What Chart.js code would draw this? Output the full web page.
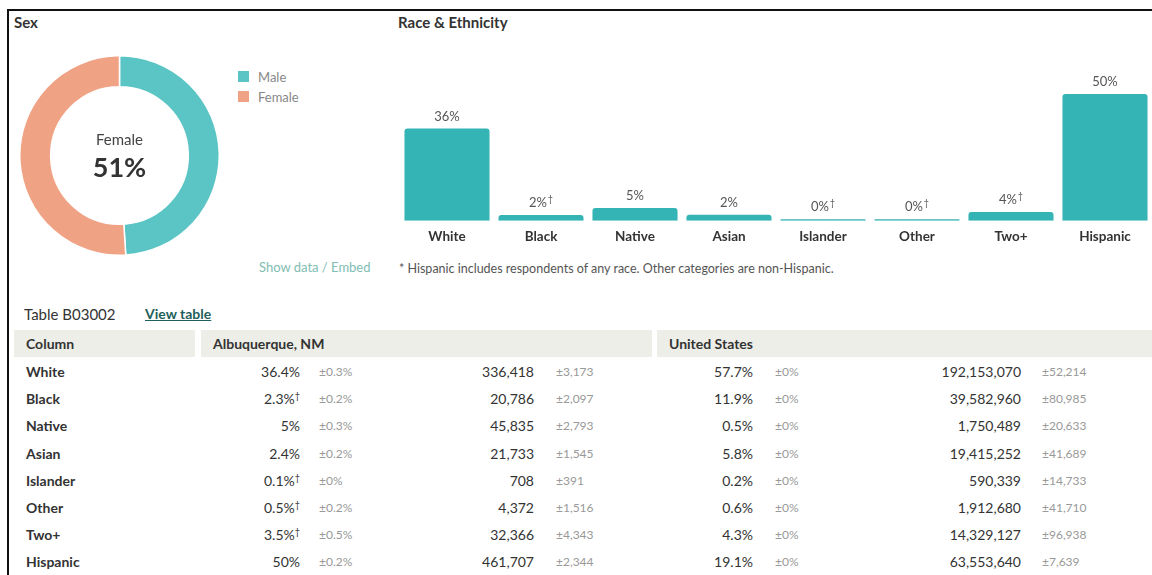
<!DOCTYPE html>
<html>
<head>
<meta charset="utf-8">
<script src="https://cdn.jsdelivr.net/npm/chart.js@4"></script>
<style>
body { margin: 0; width: 1152px; height: 575px; overflow: hidden; background: #fff; font-family: Lato, sans-serif; position: relative; color: #333; }
.abs { position: absolute; white-space: nowrap; }
.frame { left: 7px; top: 9px; width: 1150px; height: 600px; border-top: 2px solid #111; border-left: 2px solid #111; }
.h { font-size: 15px; font-weight: bold; color: #333; }
.sw { width: 11px; height: 11px; }
.lg { font-size: 13px; color: #888; }
.hdr { background: #eeeee9; height: 27px; top: 330px; }
.hdr span { position: absolute; left: 12px; top: 5px; font-size: 14px; font-weight: bold; color: #333; }
.cell { height: 20px; line-height: 20px; font-size: 14px; color: #333; }
.lab { font-weight: bold; }
.moe { font-size: 12px; color: #999; }
sup { font-size: 9px; vertical-align: 5px; line-height: 0; }
</style>
</head>
<body>
<div class="abs frame"></div>
<div class="abs h" style="left:14px;top:13px;">Sex</div>
<div class="abs h" style="left:398px;top:13px;">Race &amp; Ethnicity</div>

<div class="abs" style="left:19px;top:55px;width:201px;height:201px;"><canvas id="sexChart"></canvas></div>
<div class="abs sw" style="left:238px;top:71px;background:#5bc4c4;"></div>
<div class="abs lg" style="left:258px;top:69px;">Male</div>
<div class="abs sw" style="left:238px;top:91px;background:#f0a384;"></div>
<div class="abs lg" style="left:258px;top:89px;">Female</div>
<div class="abs" style="left:259px;top:259px;font-size:13px;color:#7fbdb3;">Show data / Embed</div>

<div class="abs" style="left:400px;top:60px;width:752px;height:193px;"><canvas id="raceChart"></canvas></div>
<div class="abs" style="left:399px;top:261px;font-size:12.5px;color:#555;">* Hispanic includes respondents of any race. Other categories are non-Hispanic.</div>

<div class="abs" style="left:24px;top:305px;font-size:15px;color:#333;">Table B03002</div>
<div class="abs" style="left:145px;top:305px;font-size:14px;font-weight:bold;color:#1f5f5c;text-decoration:underline;">View table</div>
<div class="abs hdr" style="left:14px;width:181px;"><span>Column</span></div>
<div class="abs hdr" style="left:201px;width:451px;"><span>Albuquerque, NM</span></div>
<div class="abs hdr" style="left:657px;width:495px;"><span>United States</span></div>
<div id="rows"></div>

<script>
// sex
const sexLabels = ['Male', 'Female'];
const sexValues = [49, 51];

// race & ethnicity (share of population, %)
const raceLabels = ['White', 'Black', 'Native', 'Asian', 'Islander', 'Other', 'Two+', 'Hispanic'];
const racePct = [36.4, 2.3, 5.0, 2.4, 0.1, 0.47, 3.51, 50.0];
const raceFlag = [false, true, false, false, true, true, true, false];

// table
const abqPct = ['36.4%', '2.3%', '5%', '2.4%', '0.1%', '0.5%', '3.5%', '50%'];
const abqPctMoe = ['±0.3%', '±0.2%', '±0.3%', '±0.2%', '±0%', '±0.2%', '±0.5%', '±0.2%'];
const abqCount = ['336,418', '20,786', '45,835', '21,733', '708', '4,372', '32,366', '461,707'];
const abqCountMoe = ['±3,173', '±2,097', '±2,793', '±1,545', '±391', '±1,516', '±4,343', '±2,344'];
const usPct = ['57.7%', '11.9%', '0.5%', '5.8%', '0.2%', '0.6%', '4.3%', '19.1%'];
const usPctMoe = ['±0%', '±0%', '±0%', '±0%', '±0%', '±0%', '±0%', '±0%'];
const usCount = ['192,153,070', '39,582,960', '1,750,489', '19,415,252', '590,339', '1,912,680', '14,329,127', '63,553,640'];
const usCountMoe = ['±52,214', '±80,985', '±20,633', '±41,689', '±14,733', '±41,710', '±96,938', '±7,639'];

Chart.defaults.font.family = 'Lato, sans-serif';

const centerText = {
    id: 'centerText',
    afterDraw(chart) {
        const ctx = chart.ctx;
        const arc = chart.getDatasetMeta(0).data[0];
        ctx.save();
        ctx.textAlign = 'center';
        ctx.textBaseline = 'middle';
        ctx.fillStyle = '#444';
        ctx.font = '15px Lato';
        ctx.fillText('Female', arc.x, arc.y - 15);
        ctx.fillStyle = '#333';
        ctx.font = 'bold 27px Lato';
        ctx.fillText(Math.round(sexValues[1]) + '%', arc.x, arc.y + 13);
        ctx.restore();
    }
};

new Chart(document.getElementById('sexChart'), {
    type: 'doughnut',
    data: {
        labels: sexLabels,
        datasets: [{
            data: sexValues,
            backgroundColor: ['#5bc4c4', '#f0a384'],
            borderColor: '#fff',
            borderWidth: 1.5
        }]
    },
    options: {
        responsive: true,
        maintainAspectRatio: false,
        animation: false,
        cutout: '69%',
        plugins: { legend: { display: false }, tooltip: { enabled: false } }
    },
    plugins: [centerText]
});

const barLabels = {
    id: 'barLabels',
    afterDatasetsDraw(chart) {
        const ctx = chart.ctx;
        chart.getDatasetMeta(0).data.forEach((bar, i) => {
            const txt = Math.round(racePct[i]) + '%';
            ctx.save();
            ctx.fillStyle = '#555';
            ctx.textBaseline = 'middle';
            ctx.font = '13px Lato';
            const w = ctx.measureText(txt).width;
            ctx.font = '9px Lato';
            const dw = raceFlag[i] ? ctx.measureText('†').width + 1 : 0;
            const x0 = bar.x - (w + dw) / 2;
            const y = bar.y - 12;
            ctx.font = '13px Lato';
            ctx.textAlign = 'left';
            ctx.fillText(txt, x0, y);
            if (raceFlag[i]) {
                ctx.font = '9px Lato';
                ctx.fillText('†', x0 + w + 1, y - 4);
            }
            ctx.restore();
        });
    }
};

new Chart(document.getElementById('raceChart'), {
    type: 'bar',
    data: {
        labels: raceLabels,
        datasets: [{
            data: racePct,
            backgroundColor: '#34b4b4',
            borderRadius: { topLeft: 3, topRight: 3 },
            borderSkipped: 'bottom',
            barPercentage: 0.905,
            categoryPercentage: 1,
            minBarLength: 1.5
        }]
    },
    options: {
        responsive: true,
        maintainAspectRatio: false,
        animation: false,
        layout: { padding: { top: 34 } },
        plugins: { legend: { display: false }, tooltip: { enabled: false } },
        scales: {
            x: {
                grid: { display: false, drawTicks: false },
                border: { display: false },
                ticks: { color: '#333', font: { size: 13.5, weight: 'bold' }, padding: 8 }
            },
            y: { display: false, min: 0, max: 50 }
        }
    },
    plugins: [barLabels]
});

// table rows
const rowsEl = document.getElementById('rows');
function cell(text, css, cls) {
    const d = document.createElement('div');
    d.className = 'abs cell ' + (cls || '');
    d.style.cssText = css;
    d.innerHTML = text;
    rowsEl.appendChild(d);
}
raceLabels.forEach((lab, i) => {
    const top = Math.round(362 + i * 27.2);
    const dag = raceFlag[i] ? '<sup>†</sup>' : '';
    cell(lab, `left:26px;top:${top}px;`, 'lab');
    cell(abqPct[i] + dag, `right:${1152 - 300}px;top:${top}px;`);
    cell(abqPctMoe[i], `left:319px;top:${top}px;`, 'moe');
    cell(abqCount[i], `right:${1152 - 534}px;top:${top}px;`);
    cell(abqCountMoe[i], `left:556px;top:${top}px;`, 'moe');
    cell(usPct[i], `right:${1152 - 753}px;top:${top}px;`);
    cell(usPctMoe[i], `left:775px;top:${top}px;`, 'moe');
    cell(usCount[i], `right:${1152 - 1021}px;top:${top}px;`);
    cell(usCountMoe[i], `left:1042px;top:${top}px;`, 'moe');
});
</script>
</body>
</html>
